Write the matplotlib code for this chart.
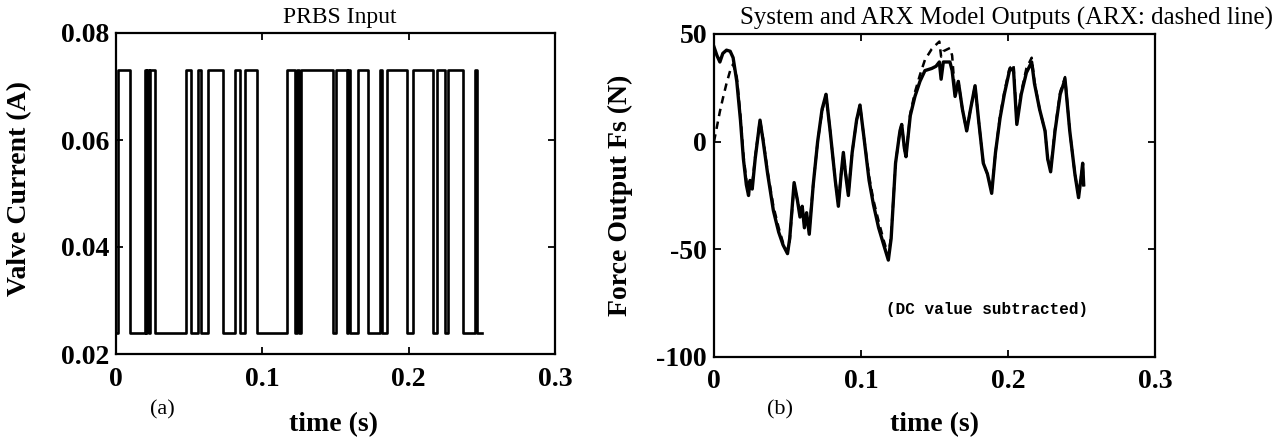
import matplotlib
matplotlib.use("Agg")
import matplotlib.pyplot as plt
import numpy as np

# ---------------- data ----------------
# PRBS input: switching instants (s) and the level held from each instant (A)
prbs_t = [0.0, 0.0016, 0.0098, 0.0200, 0.0207, 0.0214, 0.0223, 0.0230, 0.0269,
          0.0478, 0.0513, 0.0560, 0.0583, 0.0629, 0.0731, 0.0815, 0.0849,
          0.0883, 0.0963, 0.1168, 0.1225, 0.1240, 0.1248, 0.1261, 0.1485,
          0.1503, 0.1576, 0.1587, 0.1599, 0.1610, 0.1656, 0.1724, 0.1804,
          0.1818, 0.1854, 0.1986, 0.2027, 0.2164, 0.2196, 0.2250, 0.2271,
          0.2369, 0.2453, 0.2464, 0.2498]
prbs_level = [0.024, 0.073, 0.024, 0.073, 0.024, 0.073, 0.024, 0.073, 0.024,
              0.073, 0.024, 0.073, 0.024, 0.073, 0.024, 0.073, 0.024,
              0.073, 0.024, 0.073, 0.024, 0.073, 0.024, 0.073, 0.024,
              0.073, 0.024, 0.073, 0.024, 0.024, 0.073, 0.024, 0.073,
              0.024, 0.073, 0.024, 0.073, 0.024, 0.073, 0.024, 0.073,
              0.024, 0.073, 0.024, 0.024]

# System output (solid) and ARX model output (dashed), N
out_t = [0.0, 0.002, 0.004, 0.006, 0.0085, 0.011, 0.013, 0.0155, 0.018, 0.020,
         0.022, 0.0235, 0.0245, 0.026, 0.028, 0.0313, 0.0335, 0.0365, 0.0404,
         0.044, 0.047, 0.050, 0.0515, 0.0545, 0.0567, 0.0585, 0.060, 0.0615,
         0.063, 0.0648, 0.0675, 0.0705, 0.0735, 0.0762, 0.079, 0.0825, 0.0846,
         0.0865, 0.088, 0.0895, 0.0914, 0.094, 0.097, 0.0993, 0.102, 0.1055,
         0.1084, 0.112, 0.1155, 0.1186, 0.1205, 0.1235, 0.1265, 0.1277, 0.1295,
         0.1306, 0.1335, 0.1367, 0.1401, 0.1435, 0.1481, 0.1510, 0.1533, 0.1545,
         0.1560, 0.1605, 0.162, 0.164, 0.1662, 0.169, 0.1719, 0.1745, 0.1776,
         0.180, 0.1832, 0.186, 0.1889, 0.1915, 0.1946, 0.1975, 0.201, 0.2037,
         0.206, 0.209, 0.2125, 0.2161, 0.218, 0.2215, 0.2252, 0.227, 0.229,
         0.232, 0.2355, 0.2388, 0.242, 0.2455, 0.248, 0.250, 0.2508, 0.2515]
system_out = [44, 40, 37, 41, 42.5, 42, 39, 28, 10, -8,
              -20, -25, -18, -22, -8, 10, 0, -15, -32,
              -42, -48, -52, -45, -19, -27, -35, -30, -40,
              -33, -43, -20, 0, 15, 22, 5, -18, -30,
              -15, -5, -15, -25, -5, 10, 17, 2, -18,
              -29, -40, -48, -55, -45, -10, 5, 8, -3,
              -7, 12, 21, 28, 33, 34, 35, 37, 29,
              37, 37, 33, 21, 28, 15, 5, 15, 26,
              10, -10, -15, -24, -5, 11, 22, 33, 34,
              8, 22, 32, 37, 27, 15, 5, -8, -14,
              5, 22, 29, 5, -15, -26, -15, -10, -20]
arx_out = [0, 7, 14, 20, 27, 33, 36, 30, 12, -6,
           -18, -23, -19, -20, -7, 10, 1, -14, -30,
           -40, -47, -51, -46, -20, -27, -33, -31, -38,
           -35, -41, -20, 0, 14, 22, 5, -18, -29,
           -15, -6, -14, -24, -5, 10, 17, 2, -16,
           -27, -37, -46, -53, -44, -10, 5, 8, -3,
           -7, 13, 23, 31, 38, 43, 45, 46.5, 39.5,
           42, 43.5, 40, 22, 28, 15, 5, 15, 26,
           10, -10, -15, -23, -5, 12, 23, 34, 36,
           9, 23, 34, 39, 28, 15, 5, -8, -13,
           6, 23, 30, 5, -15, -25, -15, -11, -21]

x_ticks = [0, 0.1, 0.2, 0.3]
x_tick_labels = ["0", "0.1", "0.2", "0.3"]
left_y_ticks = [0.02, 0.04, 0.06, 0.08]
left_y_tick_labels = ["0.02", "0.04", "0.06", "0.08"]
right_y_ticks = [-100, -50, 0, 50]
right_y_tick_labels = ["-100", "-50", "0", "50"]

# ---------------- figure ----------------
W, H = 1281, 443
fig = plt.figure(figsize=(W / 100, H / 100), dpi=100)
fig.patch.set_facecolor("white")

serif = ["Liberation Serif", "DejaVu Serif"]
tick_font = dict(family=serif, weight="bold", size=20)
label_font = dict(family=serif, weight="bold", size=20)

def px_rect(x0, y_top, x1, y_bot):
    return [x0 / W, 1 - y_bot / H, (x1 - x0) / W, (y_bot - y_top) / H]

ax1 = fig.add_axes(px_rect(116, 33, 555, 354))
ax2 = fig.add_axes(px_rect(714, 34, 1155, 357))

for ax in (ax1, ax2):
    for s in ax.spines.values():
        s.set_linewidth(1.6)
        s.set_color("black")
    ax.tick_params(direction="in", length=5, width=1.3, top=True, right=True)
    ax.tick_params(axis="x", pad=9)
    ax.tick_params(axis="y", pad=5)
    ax.set_xlim(0, 0.3)
    ax.set_xticks(x_ticks)
    ax.set_xticklabels(x_tick_labels, fontdict=tick_font)

# left: PRBS
ax1.plot(prbs_t, prbs_level, drawstyle="steps-post", color="black", lw=1.9)
ax1.set_ylim(0.02, 0.08)
ax1.set_yticks(left_y_ticks)
ax1.set_yticklabels(left_y_tick_labels, fontdict=tick_font)
ax1.set_ylabel("Valve Current (A)", fontdict=label_font)
ax1.yaxis.set_label_coords(-0.191, 0.515)
ax1.set_xlabel("time (s)", fontdict=label_font)
ax1.xaxis.set_label_coords(0.495, -0.182)

# right: outputs
ax2.plot(out_t, arx_out, color="black", lw=1.8, ls=(0, (3, 2.2)))
ax2.plot(out_t, system_out, color="black", lw=2.4)
ax2.set_ylim(-100, 50)
ax2.set_yticks(right_y_ticks)
ax2.set_yticklabels(right_y_tick_labels, fontdict=tick_font)
ax2.set_ylabel("Force Output Fs (N)", fontdict=label_font)
ax2.yaxis.set_label_coords(-0.184, 0.5)
ax2.set_xlabel("time (s)", fontdict=label_font)
ax2.xaxis.set_label_coords(0.5, -0.172)
ax2.text(0.186, -78, "(DC value subtracted)", ha="center", va="center",
         fontdict=dict(family=["Liberation Mono", "DejaVu Sans Mono"], weight="bold", size=11.5))

# titles and panel letters
fig.text(340 / W, 1 - 18 / H, "PRBS Input", ha="center", va="center",
         fontdict=dict(family=serif, size=17))
fig.text(1006 / W, 1 - 18 / H, "System and ARX Model Outputs (ARX: dashed line)",
         ha="center", va="center", fontdict=dict(family=serif, size=18))
fig.text(162 / W, 1 - 410 / H, "(a)", ha="center", va="center",
         fontdict=dict(family=serif, size=16))
fig.text(780 / W, 1 - 410 / H, "(b)", ha="center", va="center",
         fontdict=dict(family=serif, size=16))

fig.savefig("out.png", dpi=100, facecolor="white")
